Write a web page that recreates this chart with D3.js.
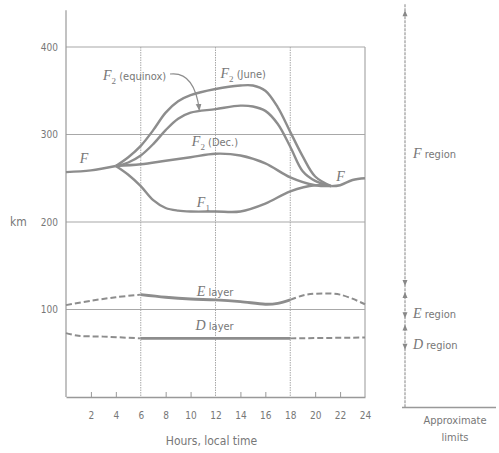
<!DOCTYPE html>
<html>
<head>
<meta charset="utf-8">
<script src="https://cdn.jsdelivr.net/npm/d3@7"></script>
<style>
  body { margin: 0; background: #fff; }
  svg { display: block; }
  .tick text { fill: #777; font-family: "DejaVu Sans Condensed", "DejaVu Sans", sans-serif; font-size: 10px; }
</style>
</head>
<body>
<svg id="chart" width="499" height="453"></svg>
<script>
// DATA (hours local time, height in km)

var hourTicks = [2, 4, 6, 8, 10, 12, 14, 16, 18, 20, 22, 24];
var kmTicks = [100, 200, 300, 400];

var fEarlyHours = [0, 2, 4];
var fEarlyKm = [257, 259, 264];
var fLateHours = [21.3, 22, 23, 24];
var fLateKm = [241, 242, 248, 250];

var juneHours = [4, 5, 6, 7, 8, 9, 10, 12, 14, 15, 16, 17, 18, 19, 20, 21.3];
var juneKm = [264, 274, 287, 305, 325, 338, 345, 352, 356, 356, 350, 331, 303, 275, 252, 241];

var equinoxHours = [4, 5, 6, 7, 8, 9, 10, 12, 14, 15, 16, 17, 18, 19, 20, 21.3];
var equinoxKm = [264, 268, 276, 289, 305, 318, 325, 329, 333, 332, 327, 312, 286, 258, 247, 241];

var decHours = [4, 6, 8, 10, 12, 14, 16, 18, 20, 21.3];
var decKm = [264, 266, 270, 274, 278, 276, 267, 251, 242, 241];

var f1Hours = [4, 5, 6, 7, 8, 9, 10, 12, 14, 16, 18, 20, 21.3];
var f1Km = [264, 254, 241, 225, 216, 213, 212, 212, 212, 221, 235, 242, 241];

var eHours = [0, 2, 4, 6, 8, 10, 12, 14, 16, 17, 18, 19, 20, 22, 24];
var eKm = [105, 110, 114, 117, 114, 112, 111, 109, 106, 107, 111, 116, 118, 117, 106];

var dHours = [0, 1, 3, 6, 12, 18, 24];
var dKm = [73, 70, 69, 67, 67, 67, 68];

// approximate limits of the regions
var regionNames = ["F", "E", "D"];
var regionTop = [442, 120, 83];
var regionBottom = [127, 90, 54];
var regionLabelKm = [278, 95, 59];

var svg = d3.select("#chart");

var lineColor = "#8d8d8d";
var gridColor = "#a8a8a8";
var textColor = "#777";
var serif = "'Liberation Serif', 'DejaVu Serif', serif";
var sans = "'DejaVu Sans Condensed', 'DejaVu Sans', sans-serif";

var x = d3.scaleLinear().domain([0, 24]).range([66, 365]);
var y = d3.scaleLinear().domain([0, 400]).range([397, 47]);

function pairs(hs, ks) {
  return hs.map(function(h, i) { return [h, ks[i]]; });
}

// GRID

svg.append("g")
  .selectAll("line")
  .data(kmTicks)
  .enter()
  .append("line")
  .attr("x1", x(0))
  .attr("x2", x(24))
  .attr("y1", function(d) { return y(d); })
  .attr("y2", function(d) { return y(d); })
  .attr("stroke", gridColor)
  .attr("stroke-width", 1.2);

svg.append("g")
  .selectAll("line")
  .data([6, 12, 18])
  .enter()
  .append("line")
  .attr("x1", function(d) { return x(d); })
  .attr("x2", function(d) { return x(d); })
  .attr("y1", y(400))
  .attr("y2", y(0))
  .attr("stroke", gridColor)
  .attr("stroke-width", 1)
  .attr("stroke-dasharray", "1.5,1");

// right frame
svg.append("line")
  .attr("x1", x(24)).attr("x2", x(24))
  .attr("y1", y(400)).attr("y2", y(0))
  .attr("stroke", gridColor)
  .attr("stroke-width", 1.2);

// AXES

var yAxis = d3.axisLeft(y)
  .tickValues(kmTicks)
  .tickSize(0)
  .tickPadding(8);

var gy = svg.append("g")
  .attr("transform", "translate(" + x(0) + ",0)")
  .call(yAxis);
gy.select(".domain").remove();

svg.append("line")
  .attr("x1", x(0)).attr("x2", x(0))
  .attr("y1", y(442)).attr("y2", y(0))
  .attr("stroke", "#999")
  .attr("stroke-width", 1.2);

var xAxis = d3.axisBottom(x)
  .tickValues(hourTicks)
  .tickSizeInner(-5)
  .tickSizeOuter(0)
  .tickPadding(15);

var gx = svg.append("g")
  .attr("transform", "translate(0," + y(0) + ")")
  .call(xAxis);
gx.select(".domain").attr("stroke", "#999").attr("stroke-width", 1.4);
gx.selectAll(".tick line").attr("stroke", "#999")
  .filter(function(d) { return d % 6 === 0; }).remove();

svg.append("text")
  .attr("x", 10).attr("y", y(200) + 4)
  .attr("font-family", sans).attr("font-size", 12)
  .attr("fill", textColor)
  .text("km");

svg.append("text")
  .attr("x", x(12) - 4).attr("y", 445)
  .attr("text-anchor", "middle")
  .attr("font-family", sans).attr("font-size", 12)
  .attr("fill", textColor)
  .text("Hours,  local time");

// CURVES

var line = d3.line()
  .x(function(d) { return x(d[0]); })
  .y(function(d) { return y(d[1]); })
  .curve(d3.curveCatmullRom.alpha(0.5));

var curves = [
  pairs(fEarlyHours, fEarlyKm),
  pairs(fLateHours, fLateKm),
  pairs(juneHours, juneKm),
  pairs(equinoxHours, equinoxKm),
  pairs(decHours, decKm),
  pairs(f1Hours, f1Km)
];

svg.append("g")
  .selectAll("path")
  .data(curves)
  .enter()
  .append("path")
  .attr("d", line)
  .attr("fill", "none")
  .attr("stroke", lineColor)
  .attr("stroke-width", 2.4)
  .attr("stroke-linejoin", "round");

// E and D layers: dashed at night, solid in daytime
function layer(hs, ks, width) {
  var pts = pairs(hs, ks);
  var parts = [
    { pts: pts.filter(function(p) { return p[0] <= 6; }), dash: "6,3" },
    { pts: pts.filter(function(p) { return p[0] >= 6 && p[0] <= 18; }), dash: null },
    { pts: pts.filter(function(p) { return p[0] >= 18; }), dash: "6,3" }
  ];
  svg.append("g")
    .selectAll("path")
    .data(parts)
    .enter()
    .append("path")
    .attr("d", function(d) { return line(d.pts); })
    .attr("fill", "none")
    .attr("stroke", lineColor)
    .attr("stroke-width", function(d) { return d.dash ? 2 : width; })
    .attr("stroke-dasharray", function(d) { return d.dash; });
}
layer(eHours, eKm, 3);
layer(dHours, dKm, 2.6);

// LABELS

function label(px, py, main, sub, rest) {
  var t = svg.append("text")
    .attr("x", px).attr("y", py)
    .attr("fill", textColor);
  t.append("tspan")
    .attr("font-family", serif).attr("font-style", "italic").attr("font-size", 14)
    .text(main);
  if (sub) {
    t.append("tspan")
      .attr("font-family", serif).attr("font-size", 9).attr("dy", 4)
      .text(sub);
  }
  if (rest) {
    t.append("tspan")
      .attr("font-family", sans).attr("font-size", 11).attr("dy", sub ? -4 : 0)
      .text(rest);
  }
  return t;
}

label(x(1.1), y(268), "F");
label(x(21.7), y(247), "F");
label(103, 80, "F", "2", " (equinox)");
label(x(12.4), 78, "F", "2", " (June)");
label(x(10.1), y(287), "F", "2", " (Dec.)");
label(x(10.5), y(217), "F", "1");
label(x(10.5), y(115), "E", null, " layer");
label(x(10.4), y(77), "D", null, " layer");

// arrow from equinox label to its curve
svg.append("defs").append("marker")
  .attr("id", "head")
  .attr("viewBox", "0 0 10 10")
  .attr("refX", 8).attr("refY", 5)
  .attr("markerWidth", 6).attr("markerHeight", 6)
  .attr("orient", "auto")
  .append("path")
  .attr("d", "M0,1L10,5L0,9Z")
  .attr("fill", lineColor);

svg.append("path")
  .attr("d", "M170,74 C186,72 196,84 " + x(10.7) + "," + (y(equinoxKm[6]) - 3))
  .attr("fill", "none")
  .attr("stroke", lineColor)
  .attr("stroke-width", 1.2)
  .attr("marker-end", "url(#head)");

// APPROXIMATE LIMITS column

var rx = 405;

svg.append("line")
  .attr("x1", rx).attr("x2", rx)
  .attr("y1", y(449)).attr("y2", y(-12))
  .attr("stroke", "#999")
  .attr("stroke-width", 1.2)
  .attr("stroke-dasharray", "3,1");

svg.append("line")
  .attr("x1", rx - 3).attr("x2", 496)
  .attr("y1", y(-12)).attr("y2", y(-12))
  .attr("stroke", "#999")
  .attr("stroke-width", 1.4);

function head(km, up) {
  var py = y(km);
  var s = up ? 1 : -1;
  return "M" + rx + "," + py + "L" + (rx - 2.5) + "," + (py + s * 6) + "L" + (rx + 2.5) + "," + (py + s * 6) + "Z";
}

var heads = [];
regionNames.forEach(function(n, i) {
  heads.push(head(regionTop[i], true));
  heads.push(head(regionBottom[i], false));
});

svg.append("g")
  .selectAll("path")
  .data(heads)
  .enter()
  .append("path")
  .attr("d", function(d) { return d; })
  .attr("fill", "#888");

regionNames.forEach(function(n, i) {
  label(rx + 8, y(regionLabelKm[i]) + 4, n, null, " region");
});

svg.append("text")
  .attr("x", 455).attr("y", 424)
  .attr("text-anchor", "middle")
  .attr("font-family", sans).attr("font-size", 11)
  .attr("fill", textColor)
  .text("Approximate");
svg.append("text")
  .attr("x", 455).attr("y", 441)
  .attr("text-anchor", "middle")
  .attr("font-family", sans).attr("font-size", 11)
  .attr("fill", textColor)
  .text("limits");
</script>
</body>
</html>
